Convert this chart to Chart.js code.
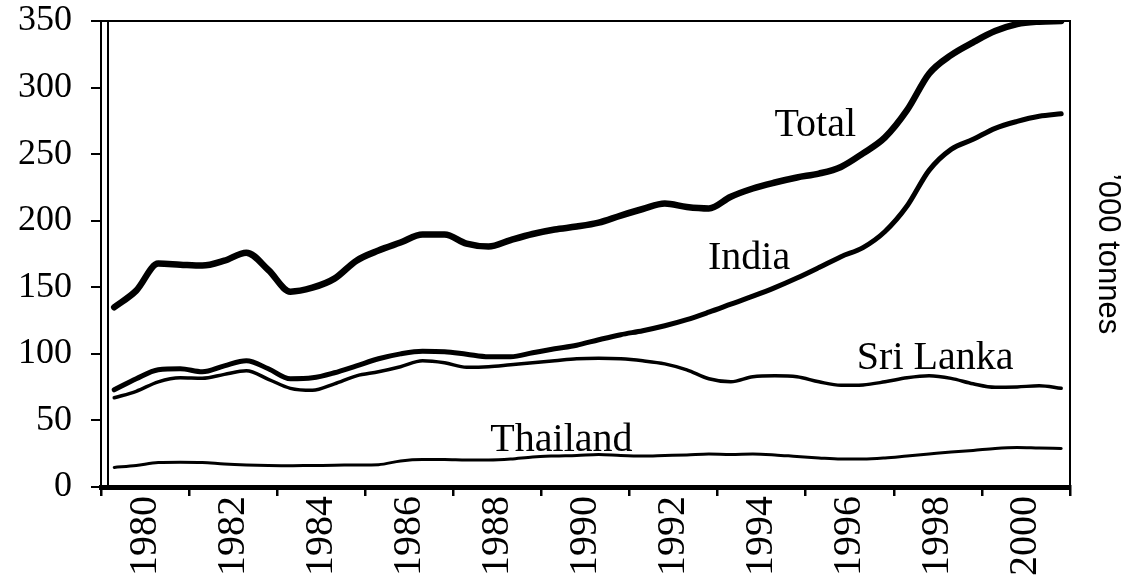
<!DOCTYPE html>
<html>
<head>
<meta charset="utf-8">
<script src="https://cdn.jsdelivr.net/npm/chart.js@4.4.1/dist/chart.umd.min.js"></script>
<style>
  body { margin: 0; background: #fff; }
  #wrap { width: 1128px; height: 580px; }
</style>
</head>
<body>
<div id="wrap"><canvas id="chart" width="1128" height="580"></canvas></div>
<script>
// tick labels on the year axis (one every two years)
const yearLabels = ['1980', '1982', '1984', '1986', '1988', '1990', '1992', '1994', '1996', '1998', '2000'];

// half-yearly readings
const years = [1980, 1980.5, 1981, 1981.5, 1982, 1982.5, 1983, 1983.5, 1984, 1984.5,
  1985, 1985.5, 1986, 1986.5, 1987, 1987.5, 1988, 1988.5, 1989, 1989.5,
  1990, 1990.5, 1991, 1991.5, 1992, 1992.5, 1993, 1993.5, 1994, 1994.5,
  1995, 1995.5, 1996, 1996.5, 1997, 1997.5, 1998, 1998.5, 1999, 1999.5,
  2000, 2000.5, 2001, 2001.5];

const total = [135, 147.5, 167.8, 167, 166.3, 170, 176, 163, 146.7, 149.7,
  156.5, 170, 177.6, 183.6, 189.6, 189.6, 182.8, 180.6, 185.5, 190,
  193.4, 195.6, 198.6, 203.9, 208.8, 213, 210.3, 209.2, 218, 224.2,
  228.7, 232.5, 235.4, 240.4, 250.6, 262.6, 283, 310.4, 324.4, 334,
  342.4, 347.7, 349.5, 350];

const india = [73, 81.3, 88, 88.8, 86.5, 91, 94.8, 88.8, 81.3, 82,
  85.8, 91, 96.3, 100, 102, 101.6, 99.7, 97.8, 97.8, 100.8,
  103.8, 106.5, 110.6, 114.4, 117.4, 121.1, 125.7, 131.3, 137.3, 143.3,
  149.7, 156.9, 164.8, 173, 179.8, 191.9, 211, 237.8, 253.6, 261.1,
  269.4, 274.6, 278.4, 280.3];

const sriLanka = [67, 71.9, 79, 82, 81.6, 84.6, 87.3, 80.9, 74.1, 72.6,
  77.5, 83.5, 86.5, 90.3, 94.8, 93.3, 89.9, 90.3, 91.8, 93.3,
  94.8, 96.3, 96.7, 96.3, 94.8, 92.5, 88, 81.3, 79, 82.8,
  83.5, 82.8, 79, 76.4, 76.7, 79, 82, 83.5, 81.6, 77.5,
  74.9, 75.2, 76, 74.1];

const thailand = [14.7, 16.2, 18.4, 18.6, 18.4, 17.3, 16.6, 16.2, 16, 16.2,
  16.3, 16.6, 16.8, 19.6, 20.7, 20.7, 20.3, 20.3, 21, 22.6,
  23.3, 23.7, 24.5, 23.7, 23.3, 23.7, 24.1, 24.8, 24.5, 24.8,
  24.1, 22.9, 21.8, 21, 21, 21.8, 23.3, 24.8, 26.3, 27.5,
  29, 29.7, 29.3, 29];

const seriesNames = ['Total', 'India', 'Sri Lanka', 'Thailand'];
// where each name is written, in data units (year, '000 tonnes)
const nameYears = [1994.99, 1993.48, 1996.86, 1988.54];
const nameValues = [264, 164, 88.8, 27.1];

const toPoints = vals => years.map((t, i) => ({x: t, y: vals[i]}));

function lineSet(label, vals, width) {
  return {
    label: label,
    data: toPoints(vals),
    xAxisID: 'xv',
    yAxisID: 'y',
    borderColor: '#000',
    borderWidth: width,
    pointRadius: 0,
    fill: false,
    cubicInterpolationMode: 'monotone',
    borderCapStyle: 'round',
    borderJoinStyle: 'round'
  };
}

// top border and the inner line of the double left axis
const framePlugin = {
  id: 'frame',
  afterDatasetsDraw(chart) {
    const ctx = chart.ctx, a = chart.chartArea;
    ctx.save();
    ctx.strokeStyle = '#000';
    ctx.lineWidth = 2;
    ctx.beginPath();
    ctx.moveTo(a.left, a.top);
    ctx.lineTo(a.right, a.top);
    ctx.moveTo(a.left + 7, a.top);
    ctx.lineTo(a.left + 7, a.bottom);
    ctx.stroke();
    ctx.restore();
  }
};

// series names written beside the lines
const namesPlugin = {
  id: 'names',
  afterDraw(chart) {
    const ctx = chart.ctx;
    const xs = chart.scales.xv, ys = chart.scales.y;
    ctx.save();
    ctx.font = '40px "Liberation Serif"';
    ctx.fillStyle = '#000';
    ctx.textAlign = 'left';
    ctx.textBaseline = 'alphabetic';
    seriesNames.forEach((n, i) => {
      ctx.fillText(n, xs.getPixelForValue(nameYears[i]), ys.getPixelForValue(nameValues[i]));
    });
    ctx.restore();
  }
};

Chart.defaults.font.family = '"Liberation Serif"';
Chart.defaults.color = '#000';

new Chart(document.getElementById('chart').getContext('2d'), {
  type: 'line',
  data: {
    datasets: [
      lineSet('Total', total, 6.5),
      lineSet('India', india, 5),
      lineSet('Sri Lanka', sriLanka, 3.5),
      lineSet('Thailand', thailand, 3)
    ]
  },
  options: {
    responsive: false,
    animation: false,
    layout: { padding: { top: 0, right: 0, bottom: 0, left: 0 } },
    plugins: {
      legend: { display: false },
      tooltip: { enabled: false }
    },
    scales: {
      x: {
        type: 'category',
        position: 'bottom',
        labels: yearLabels,
        offset: true,
        grid: {
          offset: true,
          drawOnChartArea: false,
          drawTicks: true,
          tickLength: 9,
          color: '#000',
          lineWidth: 2.5
        },
        border: { display: true, color: '#000', width: 5 },
        ticks: {
          autoSkip: false,
          minRotation: 90,
          maxRotation: 90,
          padding: 0,
          color: '#000',
          font: { family: '"Liberation Serif"', size: 40 }
        },
        afterFit: s => { s.height = 93; }
      },
      xv: {
        type: 'linear',
        display: false,
        min: 1979.7,
        max: 2001.7
      },
      y: {
        type: 'linear',
        position: 'left',
        min: 0,
        max: 350,
        ticks: {
          stepSize: 50,
          padding: 19,
          color: '#000',
          font: { family: '"Liberation Serif"', size: 36 }
        },
        grid: {
          drawOnChartArea: false,
          drawTicks: true,
          tickLength: 10,
          color: '#000',
          lineWidth: 2
        },
        border: { display: true, color: '#000', width: 2 },
        afterFit: s => {
          s.width = 101;
          s.paddingTop = 21;
          s.paddingBottom = 0;
        }
      },
      y2: {
        type: 'linear',
        position: 'right',
        min: 0,
        max: 350,
        ticks: { display: false },
        grid: { display: false },
        border: { display: true, color: '#000', width: 2 },
        title: {
          display: true,
          text: '\u2019000 tonnes',
          color: '#000',
          padding: { top: 5, bottom: 0 },
          font: { family: '"Liberation Sans"', size: 31, lineHeight: 1 }
        },
        afterFit: s => { s.width = 58; }
      }
    }
  },
  plugins: [framePlugin, namesPlugin]
});
</script>
</body>
</html>
